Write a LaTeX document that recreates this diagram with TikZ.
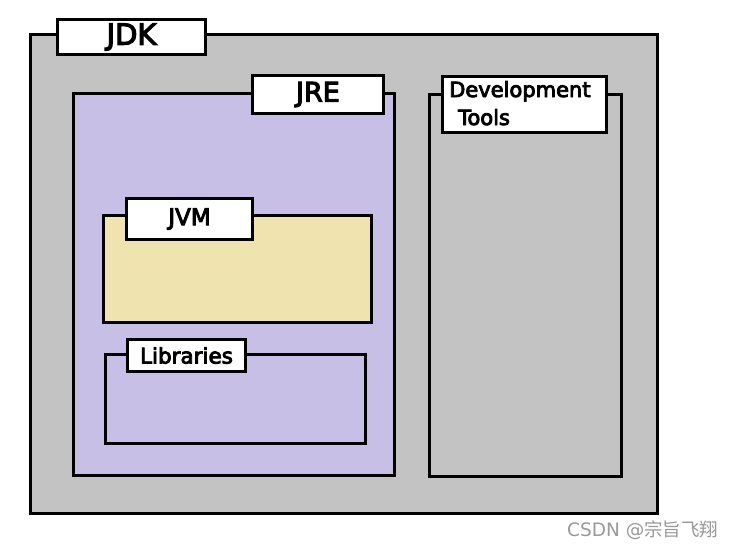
\documentclass[tikz,border=0pt]{standalone}
\usepackage{fontspec}
\setmainfont{DejaVu Sans}
\newfontfamily\semib[FakeBold=4]{DejaVu Sans}
\newfontfamily\cjk{Noto Sans CJK SC}
\definecolor{paintgray}{HTML}{C3C3C3}
\definecolor{paintlav}{HTML}{C8BFE7}
\definecolor{paintyel}{HTML}{EFE4B0}
\begin{document}
\begin{tikzpicture}[x=1pt,y=-1pt,
  area/.style={draw=black,line width=3pt},
  tag/.style={draw=black,line width=3pt,fill=white,inner sep=0pt,anchor=north west,font=\semib},
  tagtext/.style={inner sep=0pt,anchor=base west,font=\semib}]
\useasboundingbox (0,0) rectangle (734,550);
\fill[white] (0,0) rectangle (734,550);
% JDK
\draw[area,fill=paintgray] (30,34) rectangle (657,513);
\node[tag,minimum width=148pt,minimum height=35pt] (jdk) at (56,18) {\fontsize{29}{30}\selectfont\raisebox{-1pt}{JDK}};
% JRE
\draw[area,fill=paintlav] (73,93) rectangle (394,475);
\node[tag,minimum width=131pt,minimum height=38pt] (jre) at (251,74) {\fontsize{27}{28}\selectfont\raisebox{-2pt}{JRE}};
% Development tools
\draw[area,fill=paintgray] (429,94) rectangle (621,476);
\node[tag,minimum width=164pt,minimum height=56pt] (dev) at (441,75) {};
\node[tagtext] (devA) at (449,97) {\fontsize{21}{24}\selectfont Development};
\node[tagtext] (devB) at (458,125) {\fontsize{21}{24}\selectfont Tools};
% JVM
\draw[area,fill=paintyel] (103,215) rectangle (371,322);
\node[tag,minimum width=126pt,minimum height=41pt] (jvm) at (125,197) {\fontsize{23}{24}\selectfont JVM};
% Libraries
\draw[area,fill=paintlav] (105,354) rectangle (365,443);
\node[tag,minimum width=118pt,minimum height=32pt] (lib) at (126,338) {\fontsize{21.5}{22}\selectfont Libraries};
% watermark
\node[anchor=west,text=black!40,inner sep=0pt] (wm) at (567,530) {\fontsize{18.5}{19}\selectfont CSDN @{\cjk 宗旨飞翔}};
\end{tikzpicture}
\end{document}
